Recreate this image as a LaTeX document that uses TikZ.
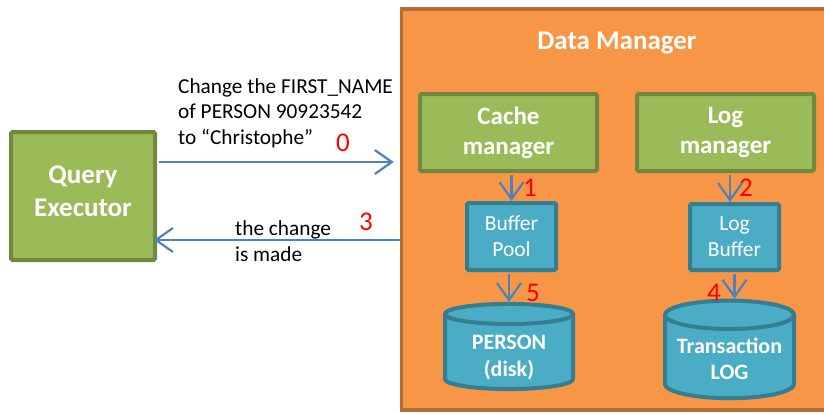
\documentclass[tikz,border=0pt]{standalone}
\usepackage{fontspec}
\setmainfont{Carlito}
\usepackage{tikz}
\usetikzlibrary{arrows.meta,shapes.geometric}
\definecolor{dmorange}{HTML}{F79646}
\definecolor{dmorangeb}{HTML}{B66D31}
\definecolor{mgreen}{HTML}{9BBB59}
\definecolor{mgreenb}{HTML}{71893F}
\definecolor{mblue}{HTML}{4BACC6}
\definecolor{mblueb}{HTML}{357D91}
\definecolor{flowblue}{HTML}{4F81BD}

\begin{document}
\begin{tikzpicture}[x=1pt,y=-1pt]
        \tikzset{dmbox/.style = {shape=rectangle,draw=dmorangeb,fill=dmorange,line width=3.5pt,minimum width=428.5pt,minimum height=401pt}}
        \tikzset{mgr/.style = {shape=rectangle,draw=mgreenb,fill=mgreen,line width=4pt,rounded corners=1.5pt,inner sep=0pt,align=center,text=white,font=\bfseries\fontsize{25}{30}\selectfont,minimum width=177pt,minimum height=77pt}}
        \tikzset{buf/.style = {shape=rectangle,draw=mblueb,fill=mblue,line width=4pt,rounded corners=1.5pt,inner sep=0pt,align=center,text=white,font=\fontsize{21.5}{26}\selectfont,minimum width=89pt,minimum height=67pt}}
        \tikzset{db/.style = {shape=cylinder,shape border rotate=90,aspect=0.27,draw=mblueb,fill=mblue,line width=4pt,inner sep=0pt,text=white,font=\bfseries\fontsize{22}{26.5}\selectfont,minimum width=128pt,minimum height=71pt}}
        \tikzset{lbl/.style = {inner sep=0pt,align=center,text=white,font=\bfseries\fontsize{27}{33}\selectfont}}
        \tikzset{txt/.style = {inner sep=0pt,align=left,font=\fontsize{21.3}{25.5}\selectfont}}
        \tikzset{num/.style = {inner sep=0pt,text=red,font=\fontsize{27}{32}\selectfont}}
        \tikzset{flow/.style = {-{Straight Barb[length=17pt,width=24pt]},line width=2.2pt,draw=flowblue}}
        \useasboundingbox (0,0) rectangle (824,413);
        % data manager
        \node[dmbox] (dm) at (615.75,209.5) {};
        \node[lbl,font=\bfseries\fontsize{27}{32}\selectfont] (dmtitle) at (617,43) {Data Manager};
        % boxes
        \node[mgr,minimum width=144pt,minimum height=128pt] (qe) at (83,196) {};
        \node[lbl] (qelbl) at (83,191) {Query\\Executor};
        \node[mgr] (cache) at (508.5,132.5) {Cache\\manager};
        \node[mgr] (logm) at (725.5,132.5) {Log\\manager};
        \node[buf] (pool) at (511.5,236.5) {Buffer\\Pool};
        \node[buf,minimum height=66pt] (logb) at (734.5,237) {Log\\Buffer};
        \node[db] (person) at (509,352.5) {\raisebox{-5pt}[\height][\depth]{\begin{tabular}{@{}c@{}}PERSON\\(disk)\end{tabular}}};
        \node[db,minimum width=129pt,minimum height=75pt] (tlog) at (729.5,357.5) {\raisebox{-3.5pt}[\height][\depth]{\begin{tabular}{@{}c@{}}Transaction\\LOG\end{tabular}}};
        % texts
        \node[txt,anchor=west] (req) at (178,113) {Change the FIRST\_NAME\\of PERSON 90923542\\to “Christophe”};
        \node[txt,anchor=west] (ans) at (235,241) {the change\\is made};
        \node[num] (n0) at (343,143) {0};
        \node[num] (n1) at (530,188) {1};
        \node[num] (n2) at (746,188) {2};
        \node[num] (n3) at (366,222) {3};
        \node[num] (n4) at (714,293) {4};
        \node[num] (n5) at (533,293) {5};
        % edges
        \coordinate (r0) at (0,162);
        \coordinate (r3) at (0,240);
        \draw[flow,shorten <=2pt] (qe.east |- r0) to ([xshift=-6pt]dm.west |- r0);
        \draw[flow,shorten >=-3pt] (dm.west |- r3) to (qe.east |- r3);
        \draw[flow,shorten <=2pt] (cache.south -| pool.north) to (pool.north);
        \draw[flow,shorten <=2pt] (logm.south -| 730,0) to (logb.north -| 730,0);
        \draw[flow,shorten <=2pt] (pool.south -| 509,0) to (person.north);
        \draw[flow,shorten <=2pt] (logb.south) to (tlog.north -| logb.south);
\end{tikzpicture}
\end{document}
